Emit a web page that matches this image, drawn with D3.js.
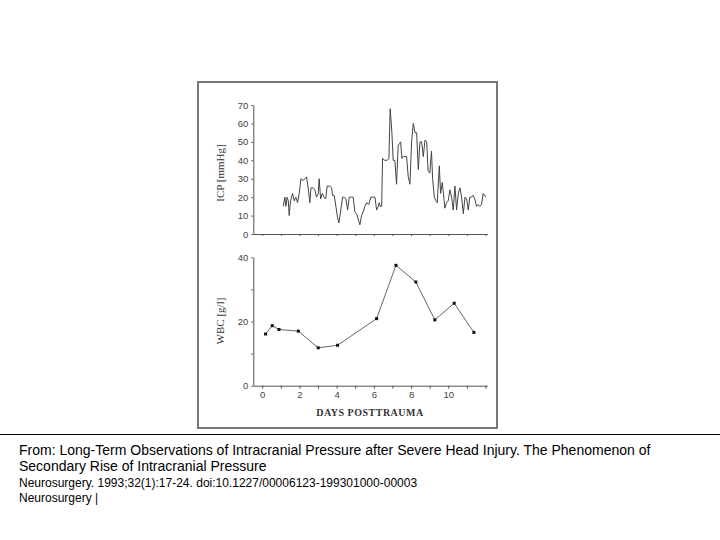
<!DOCTYPE html>
<html><head><meta charset="utf-8">
<script src="https://cdn.jsdelivr.net/npm/d3@7"></script>
<style>body{margin:0;background:#fff}</style>
</head><body>
<div id="chart"></div>
<script>
(() => {
"use strict";

const WIDTH = 720, HEIGHT = 540;

// ICP trace: days, mmHg
const icpDays = [1.13,1.22,1.27,1.34,1.40,1.45,1.52,1.63,1.72,1.81,1.90,1.99,2.08,2.20,2.29,2.38,2.47,2.56,2.62,2.74,2.83,2.92,3.01,3.06,3.14,3.23,3.32,3.41,3.49,3.64,3.73,3.78,3.87,3.96,4.05,4.12,4.21,4.32,4.41,4.50,4.59,4.68,4.80,4.89,4.98,5.07,5.16,5.25,5.34,5.43,5.52,5.61,5.73,5.84,5.97,6.06,6.15,6.24,6.29,6.34,6.42,6.47,6.59,6.72,6.81,6.88,6.97,7.04,7.13,7.22,7.31,7.37,7.44,7.51,7.58,7.67,7.76,7.85,7.94,8.03,8.12,8.21,8.30,8.39,8.48,8.57,8.66,8.75,8.84,8.92,9.01,9.10,9.16,9.25,9.34,9.41,9.52,9.59,9.68,9.73,9.82,9.91,10.0,10.09,10.18,10.27,10.36,10.45,10.54,10.63,10.72,10.81,10.90,10.99,11.08,11.16,11.25,11.34,11.43,11.52,11.61,11.69,11.79,11.88,12.03];
const icpValues = [15,20,15,20,18,10,18,22,18,20,17,22,30,29,30,31,25,17,25,25,24,20,22,30,19,22,20,19,26,26,25,21,21,15,9,6,12,20,20,19,13,20,20,20,12,11,8,5,10,12,15,17,16,20,20,20,13,15,17,15,15,41,40,40,41,68,55,40,40,27,48,49,50,41,42,42,42,31,27,50,60,55,55,35,50,50,42,51,50,34,33,45,30,20,18,17,37,22,28,23,14,17,18,24,20,13,26,13,22,25,20,11,20,19,13,20,20,21,19,15,16,15,16,22,20];

// WBC samples: days, g/l
const wbcDays = [0.18,0.54,0.9,1.94,3.01,4.05,6.15,7.19,8.26,9.28,10.32,11.38];
const wbcValues = [16.1,18.7,17.5,17.0,11.8,12.6,20.9,37.5,32.3,20.5,25.7,16.6];

const icpTicks = [0,10,20,30,40,50,60,70];
const wbcTicks = [0,20,40];
const dayTicks = [0,2,4,6,8,10];

const captionLines = [
  {text: "From: Long-Term Observations of Intracranial Pressure after Severe Head Injury. The Phenomenon of", y: 455, size: 14},
  {text: "Secondary Rise of Intracranial Pressure", y: 471, size: 14},
  {text: "Neurosurgery. 1993;32(1):17-24. doi:10.1227/00006123-199301000-00003", y: 487, size: 12},
  {text: "Neurosurgery |", y: 502, size: 12}
];

let svg = d3.select("#chart").append("svg")
  .attr("width", WIDTH)
  .attr("height", HEIGHT)
  .style("font-family", "Liberation Sans, Arial, sans-serif");

// figure frame
svg.append("rect")
  .attr("x", 198).attr("y", 82).attr("width", 299).attr("height", 346)
  .attr("fill", "none").attr("stroke", "#777").attr("stroke-width", 2);

let xScale = d3.scaleLinear().domain([-0.48, 12.1]).range([253.3, 487.3]);
let icpY = d3.scaleLinear().domain([0, 70]).range([234, 105]);
let wbcY = d3.scaleLinear().domain([0, 40]).range([385.7, 257.3]);

const axisColor = "#555";

let styleAxis = g => {
  g.selectAll("path,line").attr("stroke", axisColor);
  g.selectAll("text").attr("fill", "#444").style("font-size", "9.5px");
  g.select(".domain").attr("stroke-width", 1);
};

// ICP panel
svg.append("g").attr("transform", `translate(0,${icpY(0)})`)
  .call(d3.axisBottom(xScale).tickValues(d3.range(0, 13)).tickSize(2).tickSizeOuter(0).tickFormat(""))
  .call(styleAxis);
svg.append("g").attr("transform", `translate(${xScale.range()[0]},0)`)
  .call(d3.axisLeft(icpY).tickValues(icpTicks).tickSize(2).tickSizeOuter(0))
  .call(styleAxis);

svg.append("path")
  .datum(d3.range(icpDays.length))
  .attr("fill", "none").attr("stroke", "#444").attr("stroke-width", 1)
  .attr("d", d3.line().x(i => xScale(icpDays[i])).y(i => icpY(icpValues[i])));

// WBC panel
svg.append("g").attr("transform", `translate(0,${wbcY(0)})`)
  .call(d3.axisBottom(xScale).tickValues(d3.range(0, 13)).tickSize(3).tickSizeOuter(0)
    .tickFormat(d => dayTicks.includes(d) ? d : ""))
  .call(styleAxis);
svg.append("g").attr("transform", `translate(${xScale.range()[0]},0)`)
  .call(d3.axisLeft(wbcY).tickValues([0,10,20,30,40]).tickSize(2).tickSizeOuter(0)
    .tickFormat(d => wbcTicks.includes(d) ? d : ""))
  .call(styleAxis);

svg.append("path")
  .datum(d3.range(wbcDays.length))
  .attr("fill", "none").attr("stroke", "#555").attr("stroke-width", 0.9)
  .attr("d", d3.line().x(i => xScale(wbcDays[i])).y(i => wbcY(wbcValues[i])));

svg.selectAll("rect.pt")
  .data(d3.range(wbcDays.length))
  .join("rect").attr("class", "pt")
  .attr("x", i => xScale(wbcDays[i]) - 1.5)
  .attr("y", i => wbcY(wbcValues[i]) - 1.5)
  .attr("width", 3).attr("height", 3)
  .attr("fill", "#111");

// axis titles
const serif = "Liberation Serif, Times New Roman, serif";
svg.append("text")
  .attr("transform", "translate(224,173) rotate(-90)")
  .attr("text-anchor", "middle").style("font-family", serif)
  .style("font-size", "11px").attr("fill", "#333")
  .text("ICP [mmHg]");
svg.append("text")
  .attr("transform", "translate(224,321) rotate(-90)")
  .attr("text-anchor", "middle").style("font-family", serif)
  .style("font-size", "11px").attr("fill", "#333")
  .text("WBC [g/l]");
svg.append("text")
  .attr("x", 370).attr("y", 416)
  .attr("text-anchor", "middle").style("font-family", serif)
  .style("font-size", "10px").style("font-weight", "bold")
  .style("letter-spacing", "0.5px").attr("fill", "#333")
  .text("DAYS POSTTRAUMA");

// caption
svg.append("line")
  .attr("x1", 0).attr("x2", WIDTH).attr("y1", 434.5).attr("y2", 434.5)
  .attr("stroke", "#000").attr("stroke-width", 1);

svg.selectAll("text.caption")
  .data(captionLines)
  .join("text").attr("class", "caption")
  .attr("x", 19).attr("y", d => d.y)
  .style("font-size", d => d.size + "px")
  .attr("fill", "#000")
  .text(d => d.text);
})();
</script>
</body></html>
